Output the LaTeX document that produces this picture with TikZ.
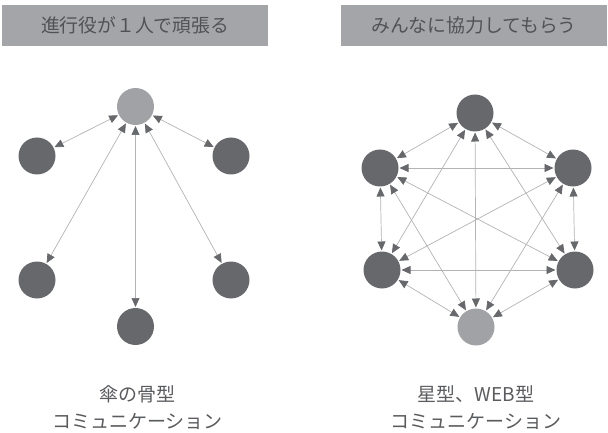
\documentclass[tikz,border=0pt]{standalone}
\usepackage{fontspec}
\newfontfamily\jp{Noto Sans CJK JP}
\usetikzlibrary{arrows.meta}
\definecolor{hdr}{HTML}{A3A5A8}
\definecolor{hdrtext}{HTML}{505255}
\definecolor{darkn}{HTML}{67686B}
\definecolor{lightn}{HTML}{A0A2A5}
\definecolor{linec}{HTML}{B2B3B5}
\definecolor{tipc}{HTML}{67686B}
\definecolor{captc}{HTML}{5A5B5E}
\tikzset{
  dnode/.style={circle,fill=darkn,minimum size=37pt,inner sep=0pt,outer sep=1pt},
  lnode/.style={circle,fill=lightn,minimum size=37pt,inner sep=0pt,outer sep=1pt},
  link/.style={draw=linec,line width=0.7pt,
    {Triangle[length=9pt,width=8pt,color=tipc]}-{Triangle[length=9pt,width=8pt,color=tipc]}},
  hbox/.style={fill=hdr,inner sep=0pt,text=hdrtext,font=\jp\fontsize{18.8}{20}\selectfont},
  capt/.style={align=center,text=captc,font=\jp\fontsize{19}{27}\selectfont}
}
\begin{document}
\begin{tikzpicture}[x=1pt,y=-1pt]
\useasboundingbox (0,0) rectangle (608,433);
% headers
\node[hbox,minimum width=266pt,minimum height=41pt] (h1) at (135,25.5) {進行役が１人で頑張る};
\node[hbox,minimum width=266pt,minimum height=41pt] (h2) at (474,25.5) {みんなに協力してもらう};
% left diagram
\node[lnode] (c) at (135.5,106.5) {};
\node[dnode] (a1) at (37,156) {};
\node[dnode] (a2) at (231,156) {};
\node[dnode] (a3) at (37,280) {};
\node[dnode] (a4) at (231,280) {};
\node[dnode] (a5) at (135.5,326.5) {};
\foreach \n in {a1,a2,a3,a4,a5} \draw[link] (c) -- (\n);
% right diagram
\node[dnode] (t) at (475,113) {};
\node[dnode] (ul) at (380,168) {};
\node[dnode] (ur) at (573,168) {};
\node[dnode] (ll) at (382,270) {};
\node[dnode] (lr) at (575,270) {};
\node[lnode] (b) at (476,327) {};
\draw[link] (t) -- (ul);
\draw[link] (t) -- (ur);
\draw[link] (t) -- (ll);
\draw[link] (t) -- (lr);
\draw[link] (t) -- (b);
\draw[link] (ul) -- (ur);
\draw[link] (ul) -- (ll);
\draw[link] (ul) -- (lr);
\draw[link] (ul) -- (b);
\draw[link] (ur) -- (ll);
\draw[link] (ur) -- (lr);
\draw[link] (ur) -- (b);
\draw[link] (ll) -- (lr);
\draw[link] (ll) -- (b);
\draw[link] (lr) -- (b);
% captions
\node[capt] (cap1) at (137.5,408) {傘の骨型\\コミュニケーション};
\node[capt] (cap2) at (476,408) {星型、WEB型\\コミュニケーション};
\end{tikzpicture}
\end{document}
